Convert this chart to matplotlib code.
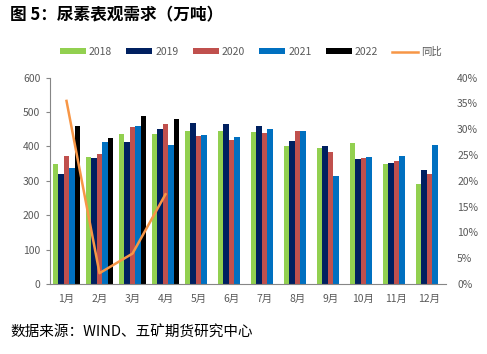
import numpy as np
import matplotlib
matplotlib.use("Agg")
import matplotlib.pyplot as plt
import matplotlib.ticker as mtick

plt.rcParams['font.family'] = ['Noto Sans CJK SC', 'DejaVu Sans']

months = ['1月', '2月', '3月', '4月', '5月', '6月', '7月', '8月', '9月', '10月', '11月', '12月']
years = ['2018', '2019', '2020', '2021', '2022']
nan = np.nan
v2018 = [350, 370, 436, 435, 445, 444, 442, 402, 396, 410, 350, 291]
v2019 = [319, 366, 412, 451, 467, 466, 459, 415, 402, 365, 353, 333]
v2020 = [372, 378, 458, 466, 430, 419, 440, 446, 385, 367, 358, 320]
v2021 = [337, 414, 460, 405, 433, 427, 452, 446, 314, 369, 373, 404]
v2022 = [459, 425, 490, 479, nan, nan, nan, nan, nan, nan, nan, nan]
yoy = [35.5, 2.1, 5.9, 17.4, nan, nan, nan, nan, nan, nan, nan, nan]  # 同比 %

series = [v2018, v2019, v2020, v2021, v2022]
colors = ['#92D050', '#002060', '#C0504D', '#0070C0', '#000000']
line_color = '#F79646'
gray = '#595959'

fig = plt.figure(figsize=(4.87, 3.54), dpi=100)
ax = fig.add_axes([50 / 487, 1 - 284 / 354, (446 - 50) / 487, (284 - 77.7) / 354])

x = np.arange(len(months))
w = 0.165
handles = []
for i in range(len(series)):
    b = ax.bar(x + (i - 2) * w, series[i], width=w, color=colors[i], label=years[i])
    handles.append(b)

ax.set_xlim(-0.5, len(months) - 0.5)
ax.set_ylim(0, 600)
ax.set_yticks(np.arange(0, 601, 100))
ax.set_xticks(x)
ax.set_xticklabels(months)
for s in ['top', 'right']:
    ax.spines[s].set_visible(False)
ax.spines['left'].set_color('#868686')
ax.spines['bottom'].set_color('#868686')
ax.tick_params(axis='y', colors=gray, labelsize=7.5, length=3, pad=4, width=0.8)
ax.tick_params(axis='y', color='#868686')
ax.tick_params(axis='x', colors=gray, labelsize=7.5, length=0, pad=7)

ax2 = ax.twinx()
ln, = ax2.plot(x, np.array(yoy) / 100, color=line_color, lw=1.8, label='同比')
ax2.set_ylim(0, 0.4)
ax2.set_yticks(np.arange(0, 0.41, 0.05))
ax2.yaxis.set_major_formatter(mtick.PercentFormatter(1.0, decimals=0))
for s in ax2.spines.values():
    s.set_visible(False)
ax2.tick_params(axis='y', colors=gray, labelsize=7.5, length=0, pad=8)

handles.append(ln)
leg = fig.legend(handles=handles, labels=years + ['同比'], loc='center',
                 bbox_to_anchor=(0.515, 1 - 52 / 354), ncol=6, frameon=False,
                 fontsize=7.5, handlelength=2.5, handleheight=0.5,
                 handletextpad=0.3, columnspacing=1.35)
for t in leg.get_texts():
    t.set_color(gray)

fig.text(10 / 487, 1 - 15 / 354, '图 5：尿素表观需求（万吨）', fontsize=12,
         fontweight='bold', ha='left', va='center')
fig.text(10 / 487, 1 - 333 / 354, '数据来源：WIND、五矿期货研究中心', fontsize=10.5,
         ha='left', va='center')

fig.savefig('out.png', dpi=100)
